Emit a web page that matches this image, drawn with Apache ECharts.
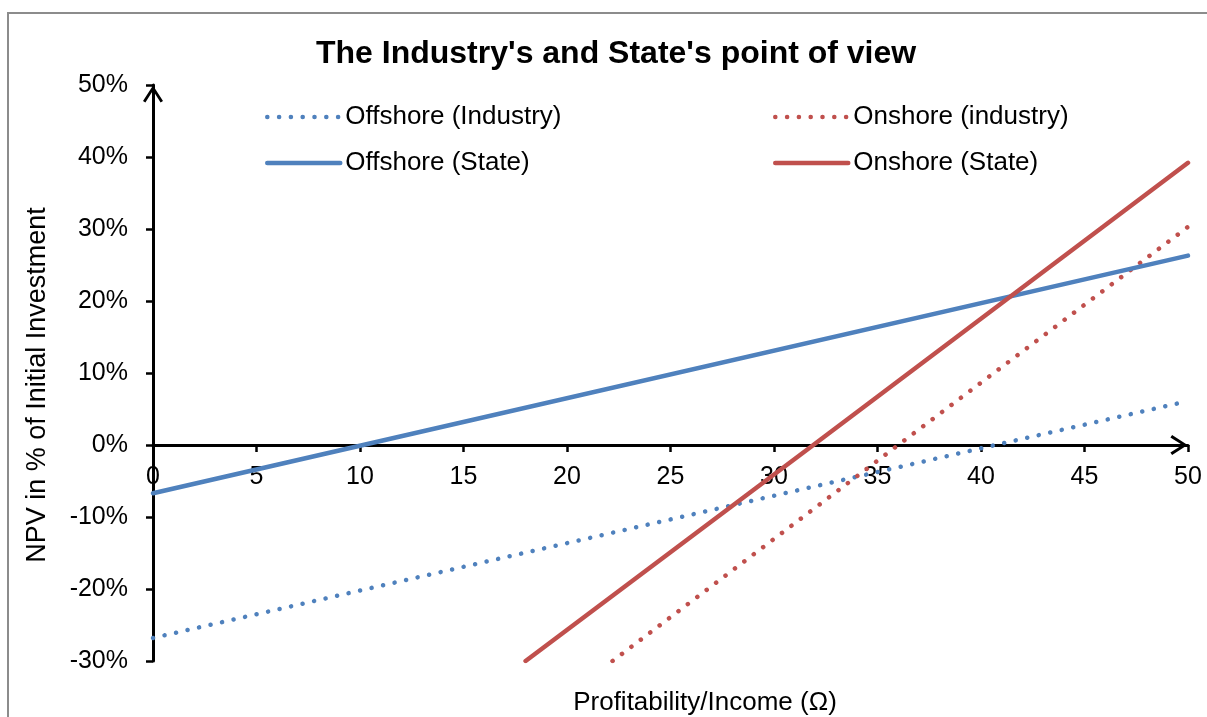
<!DOCTYPE html>
<html>
<head>
<meta charset="utf-8">
<script src="https://cdn.jsdelivr.net/npm/echarts@6/dist/echarts.min.js"></script>
<style>
  html, body { margin: 0; padding: 0; background: #fff; }
  #chart { width: 1207px; height: 717px; }
</style>
</head>
<body>
<div id="chart"></div>
<script>
// values (x = profitability, y = NPV in %)
const offshoreIndustryX = [0, 40.7, 50];
const offshoreIndustryY = [-26.8, 0, 6.1];
const onshoreIndustryX = [22.2, 36.0, 50];
const onshoreIndustryY = [-30, 0, 30.3];
const offshoreStateX = [0, 10.15, 50];
const offshoreStateY = [-6.7, 0, 26.3];
const onshoreStateX = [18.0, 31.9, 50];
const onshoreStateY = [-30, 0, 39.2];

const yMin = -30, yMax = 50, yStep = 10;
const xMin = 0, xMax = 50, xStep = 5;

const BLUE = '#4F81BD';
const RED = '#C0504D';
const FONT = 'Liberation Sans, Arial, sans-serif';

// open chevron used as axis arrow (points up like the built-in arrow)
const chevron = 'path://M10,0 L20,15.5 L17.6,17.2 L10,5.2 L2.4,17.2 L0,15.5 Z';

const pairs = (xs, ys) => xs.map((x, i) => [x, ys[i]]);

const W = 1207, H = 717;
const gridTop = 85, gridBottom = 56;
const gridH = H - gridTop - gridBottom;
// x axis sits on y = 0, labels with it (onZero doesn't move labels here)
const xAxisOffset = -gridH * (0 - yMin) / (yMax - yMin);

const chart = echarts.init(document.getElementById('chart'));

const dotted = color => ({ color: color, width: 4.5, type: [0.1, 11.7], cap: 'round' });
const solid = color => ({ color: color, width: 4.5, type: 'solid', cap: 'round' });

const legendBase = {
  orient: 'vertical',
  top: 104,
  padding: 0,
  itemWidth: 73,
  itemHeight: 25,
  itemGap: 20,
  itemStyle: { color: 'rgba(0,0,0,0)', borderWidth: 0 },
  lineStyle: { width: 4.5, cap: 'round' },
  textStyle: { fontFamily: FONT, fontSize: 26, color: '#000' }
};

chart.setOption({
  animation: false,
  title: {
    text: "The Industry's and State's point of view",
    left: 316,
    top: 38,
    padding: 0,
    textStyle: { fontFamily: FONT, fontSize: 32, fontWeight: 'bold', color: '#000' }
  },
  legend: [
    Object.assign({ data: ['Offshore (Industry)', 'Offshore (State)'], left: 265 }, legendBase),
    Object.assign({ data: ['Onshore (industry)', 'Onshore (State)'], left: 773 }, legendBase)
  ],
  grid: { left: 153, right: 19, top: gridTop, bottom: gridBottom, containLabel: false },
  xAxis: {
    type: 'value',
    min: xMin,
    max: xMax,
    interval: xStep,
    offset: xAxisOffset,
    axisLine: {
      onZero: false,
      symbol: ['none', chevron],
      symbolSize: [20, 18],
      symbolOffset: [0, -9],
      lineStyle: { color: '#000', width: 3 }
    },
    axisTick: { length: 7, lineStyle: { color: '#000', width: 2.5 } },
    axisLabel: { margin: 20, fontFamily: FONT, fontSize: 25, color: '#000' },
    splitLine: { show: false }
  },
  yAxis: {
    type: 'value',
    min: yMin,
    max: yMax,
    interval: yStep,
    axisLine: {
      show: true,
      onZero: false,
      symbol: ['none', chevron],
      symbolSize: [20, 18],
      symbolOffset: [0, -9],
      lineStyle: { color: '#000', width: 3 }
    },
    axisTick: { show: true, length: 7, lineStyle: { color: '#000', width: 2.5 } },
    axisLabel: { margin: 25, padding: [4, 0, 0, 0], formatter: '{value}%', fontFamily: FONT, fontSize: 25, color: '#000' },
    splitLine: { show: false }
  },
  graphic: [
    {
      type: 'rect',
      z: -10,
      silent: true,
      shape: { x: 8, y: 13, width: 1400, height: 1000 },
      style: { fill: 'none', stroke: '#8c8c8c', lineWidth: 2 }
    },
    {
      type: 'text',
      x: 38,
      y: 385,
      rotation: Math.PI / 2,
      style: {
        text: 'NPV in % of Initial Investment',
        font: '27px ' + FONT,
        fill: '#000',
        align: 'center',
        verticalAlign: 'middle'
      }
    },
    {
      type: 'text',
      x: 705,
      y: 703,
      style: {
        text: 'Profitability/Income (Ω)',
        font: '26px ' + FONT,
        fill: '#000',
        align: 'center',
        verticalAlign: 'middle'
      }
    }
  ],
  series: [
    {
      name: 'Offshore (Industry)',
      type: 'line',
      symbol: 'none',
      color: BLUE,
      lineStyle: dotted(BLUE),
      data: pairs(offshoreIndustryX, offshoreIndustryY)
    },
    {
      name: 'Onshore (industry)',
      type: 'line',
      symbol: 'none',
      color: RED,
      lineStyle: dotted(RED),
      data: pairs(onshoreIndustryX, onshoreIndustryY)
    },
    {
      name: 'Offshore (State)',
      type: 'line',
      symbol: 'none',
      color: BLUE,
      lineStyle: solid(BLUE),
      data: pairs(offshoreStateX, offshoreStateY)
    },
    {
      name: 'Onshore (State)',
      type: 'line',
      symbol: 'none',
      color: RED,
      lineStyle: solid(RED),
      data: pairs(onshoreStateX, onshoreStateY)
    }
  ]
});
</script>
</body>
</html>
